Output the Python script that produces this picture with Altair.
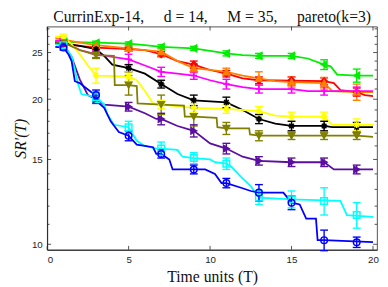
import altair as alt
import pandas as pd

# ---------------- data ----------------
series = ["green", "red", "orange", "magenta", "black", "yellow", "olive", "purple", "cyan", "blue"]
colors = ["#00ee00", "#ff0000", "#ff8000", "#ff00ff", "#000000", "#ffff00", "#808000", "#5b0fa0", "#00ffff", "#0000ff"]
ASTER = "M-1,0L1,0M0,-1L0,1M-0.7,-0.7L0.7,0.7M-0.7,0.7L0.7,-0.7"
PLUS = "M-1,0L1,0M0,-1L0,1"
shapes = ["triangle-left", "diamond", "triangle-up", PLUS, ASTER, ASTER, "triangle-down", "triangle-right", "square", "circle"]
fills = ["#00ee00", "#ff0000", "#ff8000", "#ff00ff", "#000000", "#ffff00", "#808000", "#5b0fa0", "transparent", "transparent"]

marker_t = [1, 3, 5, 7, 9, 11, 13, 15, 17, 19]

green_t = [0.5, 1, 3, 5, 6, 7, 8, 9, 10, 11, 12, 13, 15, 16, 17, 17.4, 17.8, 19, 20]
green_v = [26.4, 26.3, 26.2, 26.1, 25.9, 25.7, 25.6, 25.5, 25.2, 24.9, 24.7, 24.6, 24.6, 24.3, 23.6, 23.4, 22.5, 22.4, 22.4]
green_m = [26.3, 26.2, 26.1, 25.7, 25.5, 24.9, 24.6, 24.6, 23.6, 22.4]
green_e = [0.2, 0.2, 0.2, 0.25, 0.25, 0.3, 0.3, 0.3, 0.55, 0.7]

red_t = [0.5, 1, 2, 3, 5, 6, 7, 8, 9, 10, 11, 12, 13, 17, 17.6, 18, 19, 19.5, 20]
red_v = [26.2, 26.1, 25.8, 25.6, 25.4, 25.3, 24.8, 24.0, 23.6, 23.0, 22.6, 22.1, 21.9, 21.8, 21.6, 20.9, 20.7, 20.4, 20.3]
red_m = [26.1, 25.6, 25.4, 24.8, 23.6, 22.6, 21.9, 21.9, 21.8, 20.7]
red_e = [0.2, 0.25, 0.25, 0.3, 0.4, 0.35, 0.35, 0.35, 0.35, 0.4]

orange_t = [0.5, 1, 2, 3, 5, 6, 7, 8, 9, 10, 11, 12, 13, 14, 15, 17, 17.5, 19, 20]
orange_v = [26.8, 26.6, 26.2, 25.9, 25.5, 25.3, 25.1, 24.0, 23.2, 23.0, 22.8, 22.4, 22.1, 21.8, 21.7, 21.6, 20.8, 20.7, 20.7]
orange_m = [26.6, 25.9, 25.5, 25.1, 23.2, 22.8, 22.1, 21.7, 21.6, 20.7]
orange_e = [0.3, 0.4, 0.3, 0.5, 0.5, 0.4, 0.7, 0.5, 0.6, 0.8]

magenta_t = [0.5, 1, 1.5, 2, 3, 4, 5, 6, 7, 8, 9, 10, 11, 12, 13, 15, 16, 20]
magenta_v = [26.5, 26.4, 25.8, 25.3, 24.8, 24.5, 24.2, 23.5, 22.8, 22.6, 22.4, 21.9, 21.5, 21.2, 21.0, 21.0, 20.8, 20.8]
magenta_m = [26.4, 24.8, 24.2, 22.8, 22.4, 21.5, 21.0, 21.0, 20.8, 20.8]
magenta_e = [0.3, 0.4, 0.6, 0.5, 0.4, 0.5, 0.4, 0.4, 0.4, 0.4]

black_t = [0.5, 1, 2, 3, 3.5, 4, 5, 6, 7, 8, 9, 11, 12, 13, 14, 15, 17, 17.5, 20]
black_v = [26.2, 26.1, 25.8, 25.4, 24.6, 23.6, 23.2, 22.6, 21.5, 20.5, 19.9, 19.7, 19.0, 18.2, 17.8, 17.6, 17.6, 17.5, 17.5]
black_m = [26.1, 25.4, 23.2, 21.5, 19.9, 19.7, 18.2, 17.6, 17.6, 17.5]
black_e = [0.2, 0.3, 0.4, 0.4, 0.5, 0.5, 0.4, 0.4, 0.4, 0.4]

yellow_t = [0.5, 1, 1.5, 2, 2.5, 3, 5, 5.5, 6, 6.5, 7, 9, 11, 13, 14, 15, 17, 17.5, 20]
yellow_v = [27.0, 26.9, 26.0, 24.8, 23.5, 22.4, 22.3, 21.9, 20.8, 19.6, 19.5, 19.2, 19.1, 18.9, 18.5, 18.4, 18.4, 17.7, 17.7]
yellow_m = [26.9, 22.4, 22.3, 19.5, 19.2, 19.1, 18.9, 18.4, 18.4, 17.7]
yellow_e = [0.4, 0.8, 0.5, 0.4, 0.4, 0.4, 0.4, 0.4, 0.4, 0.5]

olive_t = [0.5, 1, 2, 3, 4.1, 4.15, 5, 5.5, 5.55, 7, 8.4, 8.45, 9, 10.4, 10.45, 11, 12.4, 12.45, 13, 19, 20]
olive_v = [26.3, 26.2, 25.3, 24.7, 24.6, 21.4, 21.4, 21.3, 19.6, 19.5, 19.4, 18.4, 18.4, 18.3, 17.5, 17.4, 17.4, 16.9, 16.8, 16.8, 16.7]
olive_m = [26.2, 24.7, 21.4, 19.5, 18.4, 17.4, 16.8, 16.8, 16.8, 16.8]
olive_e = [0.3, 0.4, 1.0, 0.9, 0.8, 0.5, 0.4, 0.3, 0.3, 0.3]

purple_t = [0.5, 1, 1.5, 2, 2.5, 3, 3.5, 5, 6, 6.7, 7, 8, 9, 10, 11, 12, 13, 15, 17, 17.6, 20]
purple_v = [26.1, 26.0, 24.5, 22.0, 20.4, 20.0, 19.5, 19.3, 18.7, 18.2, 18.2, 17.6, 17.2, 16.2, 15.8, 15.2, 14.9, 14.8, 14.8, 14.3, 14.3]
purple_m = [26.0, 20.0, 19.3, 18.2, 17.2, 15.8, 14.9, 14.8, 14.8, 14.3]
purple_e = [0.3, 0.4, 0.4, 0.5, 0.5, 0.4, 0.3, 0.3, 0.3, 0.3]

cyan_t = [0.5, 1, 1.5, 1.9, 2.1, 3, 3.5, 3.7, 4.1, 5, 5.5, 6, 6.7, 7, 8, 8.3, 9, 10, 10.3, 11, 11.3, 11.9, 12.5, 13, 15, 18, 18.4, 20]
cyan_v = [26.0, 25.9, 24.6, 21.5, 20.5, 20.2, 19.5, 18.6, 17.7, 17.5, 16.4, 16.0, 15.8, 15.8, 15.7, 15.2, 15.1, 15.0, 14.8, 14.7, 14.5, 13.8, 13.2, 12.5, 12.4, 12.3, 11.5, 11.4]
cyan_m = [25.9, 20.2, 17.5, 15.8, 15.1, 14.7, 12.5, 12.4, 12.3, 11.5]
cyan_e = [0.3, 0.5, 0.5, 0.5, 0.4, 0.4, 0.4, 0.5, 0.8, 0.7]

blue_t = [0.5, 1, 1.3, 1.5, 1.7, 2, 2.3, 2.7, 3, 3.2, 3.5, 3.9, 4.4, 5, 5.5, 6.5, 6.7, 7, 7.5, 7.7, 9.7, 10.3, 10.7, 11, 11.9, 12.5, 13, 14.5, 15, 15.5, 15.9, 16.5, 16.6, 17, 20]
blue_v = [25.7, 25.6, 24.8, 24.0, 21.8, 21.6, 21.2, 20.7, 20.4, 19.6, 19.2, 18.0, 17.1, 16.8, 16.1, 15.9, 15.4, 15.4, 15.0, 14.3, 14.3, 14.0, 13.4, 13.4, 13.1, 12.9, 12.8, 12.8, 12.2, 12.1, 11.3, 11.3, 10.2, 10.2, 10.1]
blue_m = [25.6, 20.4, 16.8, 15.4, 14.3, 13.4, 12.8, 12.2, 10.2, 10.1]
blue_e = [0.3, 0.5, 0.4, 0.3, 0.3, 0.3, 0.5, 0.4, 0.5, 0.25]

x_major = [0, 5, 10, 15, 20]
y_major = [10, 15, 20, 25]
y_minor = [11, 12, 13, 14, 16, 17, 18, 19, 21, 22, 23, 24, 26, 27, 28]

GAP = "\u00a0\u00a0\u00a0\u00a0\u00a0"
title_text = "CurrinExp-14," + GAP + "d = 14," + GAP + "M = 35," + GAP + "pareto(k=3)"

# ---------------- tables ----------------
line_data = {
    "green": (green_t, green_v), "red": (red_t, red_v), "orange": (orange_t, orange_v),
    "magenta": (magenta_t, magenta_v), "black": (black_t, black_v), "yellow": (yellow_t, yellow_v),
    "olive": (olive_t, olive_v), "purple": (purple_t, purple_v), "cyan": (cyan_t, cyan_v), "blue": (blue_t, blue_v),
}
mark_data = {
    "green": (green_m, green_e), "red": (red_m, red_e), "orange": (orange_m, orange_e),
    "magenta": (magenta_m, magenta_e), "black": (black_m, black_e), "yellow": (yellow_m, yellow_e),
    "olive": (olive_m, olive_e), "purple": (purple_m, purple_e), "cyan": (cyan_m, cyan_e), "blue": (blue_m, blue_e),
}
rows = []
for s in series:
    ts, vs = line_data[s]
    for i, (t, v) in enumerate(zip(ts, vs)):
        rows.append({"series": s, "t": t, "v": v, "i": i})
df_line = pd.DataFrame(rows)
rows = []
for s in series:
    ms, es = mark_data[s]
    for t, m, e in zip(marker_t, ms, es):
        rows.append({"series": s, "t": t, "v": m, "lo": m - e, "hi": m + e})
df_mark = pd.DataFrame(rows)

W, H = 337, 228
AX = "#262626"
xscale = alt.Scale(domain=[0, 20.25], nice=False, zero=False)
yscale = alt.Scale(type="log", domain=[9.74, 28.3], nice=False)
cscale = alt.Scale(domain=series, range=colors)

xaxis = alt.Axis(values=x_major, ticks=False, grid=False, labelPadding=5, labelFontSize=10,
                 labelFont="Liberation Sans", labelColor=AX, domainColor=AX,
                 title="Time units (T)", titleFont="Liberation Serif", titleFontSize=16,
                 titleFontWeight="normal", titleColor="#111111", titlePadding=4)
yaxis = alt.Axis(values=y_major, ticks=False, grid=False, labelPadding=5, labelFontSize=10,
                 labelFont="Liberation Sans", labelColor=AX, domainColor=AX,
                 title="SR′(T)", titleFont="Liberation Serif", titleFontSize=16, titleFontStyle="italic",
                 titleFontWeight="normal", titleColor="#111111", titlePadding=3)

X = alt.X("t:Q", scale=xscale, axis=xaxis)
Y = alt.Y("v:Q", scale=yscale, axis=yaxis)
C = alt.Color("series:N", scale=cscale, legend=None)

lines = alt.Chart(df_line).mark_line(strokeWidth=1.8).encode(x=X, y=Y, color=C, order=alt.Order("i:Q"))
base_m = alt.Chart(df_mark)
ebar = base_m.mark_rule(strokeWidth=1.4).encode(x=alt.X("t:Q", scale=xscale), y=alt.Y("lo:Q", scale=yscale), y2="hi:Q", color=C)
cap_lo = base_m.mark_rule(strokeWidth=1.4, xOffset=-4, x2Offset=4).encode(x=alt.X("t:Q", scale=xscale), x2="t:Q", y=alt.Y("lo:Q", scale=yscale), color=C)
cap_hi = base_m.mark_rule(strokeWidth=1.4, xOffset=-4, x2Offset=4).encode(x=alt.X("t:Q", scale=xscale), x2="t:Q", y=alt.Y("hi:Q", scale=yscale), color=C)
pts = base_m.mark_point(size=45, strokeWidth=1.5, opacity=1, fillOpacity=1).encode(
    x=alt.X("t:Q", scale=xscale), y=alt.Y("v:Q", scale=yscale),
    shape=alt.Shape("series:N", scale=alt.Scale(domain=series, range=shapes), legend=None),
    stroke=alt.Stroke("series:N", scale=cscale, legend=None),
    fill=alt.Fill("series:N", scale=alt.Scale(domain=series, range=fills), legend=None),
)

df_xt = pd.DataFrame({"t": x_major})
df_ymaj = pd.DataFrame({"v": y_major})
df_ymin = pd.DataFrame({"v": y_minor})
tk = dict(color=AX, strokeWidth=0.8)
xt_b = alt.Chart(df_xt).mark_rule(**tk).encode(x=alt.X("t:Q", scale=xscale), y=alt.value(H), y2=alt.value(H - 4))
xt_t = alt.Chart(df_xt).mark_rule(**tk).encode(x=alt.X("t:Q", scale=xscale), y=alt.value(0), y2=alt.value(4))
yt_l = alt.Chart(df_ymaj).mark_rule(**tk).encode(y=alt.Y("v:Q", scale=yscale), x=alt.value(0), x2=alt.value(4))
yt_r = alt.Chart(df_ymaj).mark_rule(**tk).encode(y=alt.Y("v:Q", scale=yscale), x=alt.value(W), x2=alt.value(W - 4))
ym_l = alt.Chart(df_ymin).mark_rule(**tk).encode(y=alt.Y("v:Q", scale=yscale), x=alt.value(0), x2=alt.value(2.5))
ym_r = alt.Chart(df_ymin).mark_rule(**tk).encode(y=alt.Y("v:Q", scale=yscale), x=alt.value(W), x2=alt.value(W - 2.5))

chart = alt.layer(lines, ebar, cap_lo, cap_hi, pts, xt_b, xt_t, yt_l, yt_r, ym_l, ym_r).resolve_scale(
    color="shared"
).properties(
    width=W, height=H,
    title=alt.Title(title_text, font="Liberation Serif",
                    fontSize=16, fontWeight="normal", color="#111111", offset=1, anchor="middle"),
    autosize=alt.AutoSizeParams(type="none"),
    padding={"left": 40, "top": 16, "right": 3, "bottom": 35},
).configure_view(stroke=AX, strokeWidth=0.8).configure_axis(grid=False)

chart.save("out.html", embed_options={"renderer": "svg", "actions": False})
